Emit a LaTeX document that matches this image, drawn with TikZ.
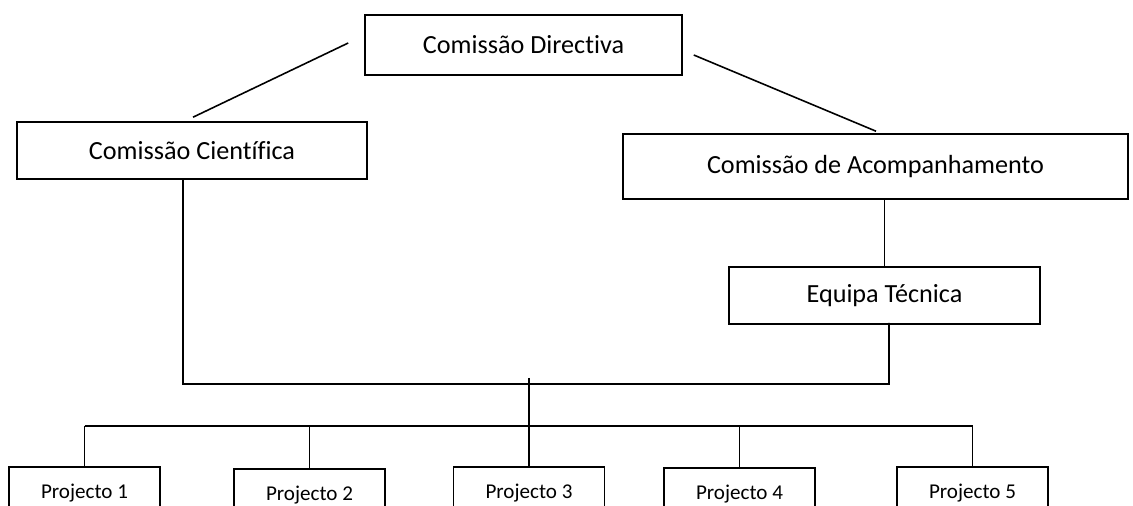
\documentclass[tikz,border=0pt]{standalone}
\usepackage{fontspec}
\setmainfont{Carlito}[Ligatures=CommonOff]
\usetikzlibrary{calc,positioning}

\tikzset{
  orgbox/.style={draw, line width=0.9pt, inner sep=0pt, align=center, font=\fontsize{14.9}{17}\selectfont},
  projbox/.style={orgbox, minimum width=3.02cm, minimum height=1.04cm, font=\fontsize{12}{14}\selectfont},
  link/.style={line width=0.9pt}
}

\begin{document}
\begin{tikzpicture}[x=0.02cm, y=-0.02cm]
    \clip (0,0) rectangle (1133,506);

    % Draw the committees
    \node[orgbox, minimum width=6.34cm, minimum height=1.2cm] (dir) at (523.5,45) {Comissão Directiva};
    \node[orgbox, minimum width=7cm, minimum height=1.14cm] (cien) at (192,150.5) {Comissão Científica};
    \node[orgbox, minimum width=10.1cm, minimum height=1.3cm] (acomp) at (875.5,166.5) {Comissão de Acompanhamento};
    \node[orgbox, minimum width=6.22cm, minimum height=1.14cm] (equipa) at (884.5,295.5) {Equipa Técnica};

    % Draw the five projects
    \foreach \i/\x/\y in {1/84.5/493, 2/309.5/495, 3/529/493, 4/739.5/494, 5/972.5/493} {
        \node[projbox] (p\i) at (\x,\y) {Projecto \i};
    }

    % Loose links from the top
    \draw[link] ([shift={(-16,-2)}]dir.west) -- ([shift={(1,-4)}]cien.north);
    \draw[link] ([shift={(11,10)}]dir.east) -- ([shift={(0.5,-2)}]acomp.north);
    \draw[link] (acomp.south -| equipa.north) -- (equipa.north);

    % Upper bus
    \coordinate (bl) at (183,384);
    \coordinate (br) at (889,384);
    \draw[link] ([shift={(-9,0)}]cien.south) -- (bl) -- (br) -- ([shift={(4.5,-2)}]equipa.south);

    % Lower bus and drops to the projects
    \coordinate (top) at (529,378);
    \coordinate (low) at (529,426);
    \draw[link] (top) -- (low);
    \draw[link] (p1.north |- low) -- (p5.north |- low);
    \foreach \i in {1,...,5} {
        \draw[link] (p\i.north) -- (p\i.north |- low);
    }
\end{tikzpicture}
\end{document}
